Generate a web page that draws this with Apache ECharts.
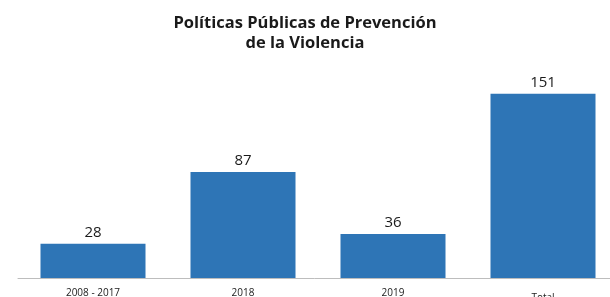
<!DOCTYPE html>
<html>
<head>
<meta charset="utf-8">
<script src="https://cdn.jsdelivr.net/npm/echarts@6/dist/echarts.min.js"></script>
<style>
  html, body { margin: 0; padding: 0; background: #fff; }
  #chart { width: 610px; height: 297px; }
</style>
</head>
<body>
<div id="chart"></div>
<script>
  // datos del gráfico
  const categories = ['2008 - 2017', '2018', '2019', 'Total']
  const values = [28, 87, 36, 151]

  const chart = echarts.init(document.getElementById('chart'))
  chart.setOption({
    animation: false,
    title: {
      text: 'Políticas Públicas de Prevención\nde la Violencia',
      left: 'center',
      top: 8,
      textStyle: {
        fontFamily: 'Open Sans',
        fontWeight: 'bold',
        fontSize: 16.5,
        lineHeight: 20,
        color: '#1a1a1a'
      }
    },
    grid: {left: 18, width: 600, top: 58.5, bottom: 19, outerBoundsMode: 'none', containLabel: false},
    xAxis: {
      type: 'category',
      data: categories,
      axisLine: {lineStyle: {color: '#bdbdbd', width: 1}},
      axisTick: {show: false},
      axisLabel: {
        margin: 10,
        fontFamily: 'Open Sans',
        fontSize: 10,
        color: '#222',
        formatter: function (v) {
          return v === 'Total' ? '{low|' + v + '}' : v
        },
        rich: {
          low: {fontFamily: 'Open Sans', fontSize: 10, color: '#222', padding: [5, 0, 0, 0]}
        }
      }
    },
    yAxis: {
      type: 'value',
      min: 0,
      max: 180,
      show: false,
      splitLine: {show: false}
    },
    series: [{
      type: 'bar',
      data: values,
      barWidth: '70%',
      itemStyle: {color: '#2e75b6'},
      label: {
        show: true,
        position: 'top',
        distance: 4,
        fontFamily: 'Open Sans',
        fontSize: 15,
        fontWeight: 500,
        color: '#1a1a1a'
      }
    }]
  })
</script>
</body>
</html>
